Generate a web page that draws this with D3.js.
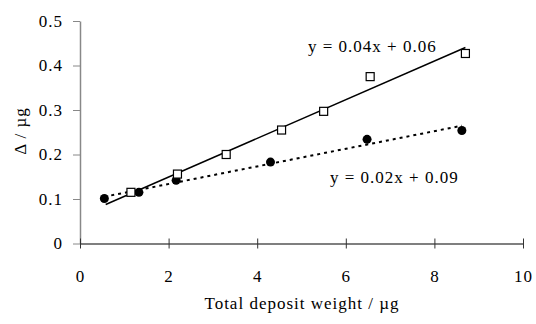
<!DOCTYPE html>
<html>
<head>
    <title>Deposit weight chart</title>
    <style>
        body { margin: 0; background: #fff; }
        svg { display: block; }
    </style>
</head>
<body>
    <svg id="chart" width="536" height="324"></svg>
    <script src="https://d3js.org/d3.v7.min.js"></script>
    <script>
        // Data
        const squareX = [1.15, 2.2, 3.3, 4.55, 5.5, 6.55, 8.7];
        const squareY = [0.115, 0.156, 0.2, 0.255, 0.297, 0.375, 0.427];
        const circleX = [0.55, 1.33, 2.17, 4.3, 6.48, 8.62];
        const circleY = [0.101, 0.115, 0.142, 0.183, 0.234, 0.254];
        const xTicks = [0, 2, 4, 6, 8, 10];
        const yTicks = [0, 0.1, 0.2, 0.3, 0.4, 0.5];
        const squareLabel = "y = 0.04x + 0.06";
        const circleLabel = "y = 0.02x + 0.09";

        // serif only resolves at small sizes here: stay at 17px, widen with letter spacing
        const FONT = "Liberation Serif";
        const FS = "17px";
        const LS = "1px";

        const svg = d3.select("#chart");
        const x = d3.scaleLinear().domain([0, 10]).range([80, 523]);
        const y = d3.scaleLinear().domain([0, 0.5]).range([243.5, 21]);

        // least squares trend line
        function fit(xs, ys) {
            const mx = d3.mean(xs), my = d3.mean(ys);
            const sxy = d3.sum(xs, (v, i) => (v - mx) * (ys[i] - my));
            const sxx = d3.sum(xs, v => (v - mx) * (v - mx));
            const m = sxy / sxx;
            return { m: m, b: my - m * mx };
        }

        function label(tx, ty, str, anchor, rot) {
            return svg.append("text")
                .attr("transform", `translate(${tx},${ty})` + (rot ? ` rotate(${rot})` : ""))
                .attr("text-anchor", anchor || "start")
                .attr("font-family", FONT).attr("font-size", FS)
                .attr("letter-spacing", LS)
                .attr("fill", "#000")
                .text(str);
        }

        // y axis
        const yAxis = svg.append("g")
            .attr("transform", "translate(80,0)")
            .call(d3.axisLeft(y).tickValues(yTicks).tickSizeInner(7).tickSizeOuter(0).tickPadding(10)
                .tickFormat(d => d === 0 ? "0" : d3.format(".1f")(d)));
        yAxis.attr("font-family", FONT).attr("font-size", FS);
        yAxis.select(".domain").attr("stroke", "#888").attr("stroke-width", 1.5);
        yAxis.selectAll(".tick line").attr("stroke", "#888");
        yAxis.selectAll(".tick text")
            .attr("letter-spacing", LS)
            .attr("fill", "#000");

        // x axis
        const xAxis = svg.append("g")
            .attr("transform", "translate(0,243.5)")
            .call(d3.axisBottom(x).tickValues(xTicks).tickSizeInner(5).tickSizeOuter(0)
                .tickFormat(d3.format("d")));
        xAxis.attr("font-family", FONT).attr("font-size", FS);
        xAxis.select(".domain").attr("stroke", "#000").attr("stroke-width", 1.2);
        xAxis.selectAll(".tick line").attr("y1", -5).attr("stroke", "#333");
        xAxis.selectAll(".tick text")
            .attr("y", 38).attr("dy", 0)
            .attr("letter-spacing", LS)
            .attr("fill", "#000");

        // axis titles
        label(302, 309, "Total deposit weight / \u00b5g", "middle");
        label(26, 131, "\u0394 / \u00b5g", "middle", -90);

        // trend lines
        const sq = fit(squareX, squareY);
        const ci = fit(circleX, circleY);
        const sqX0 = 0.58, sqX1 = d3.max(squareX);
        const ciX0 = d3.min(circleX), ciX1 = d3.max(circleX);

        svg.append("line")
            .attr("x1", x(sqX0)).attr("y1", y(sq.m * sqX0 + sq.b))
            .attr("x2", x(sqX1)).attr("y2", y(sq.m * sqX1 + sq.b))
            .attr("stroke", "#000").attr("stroke-width", 1.5);
        svg.append("line")
            .attr("x1", x(ciX0)).attr("y1", y(ci.m * ciX0 + ci.b))
            .attr("x2", x(ciX1)).attr("y2", y(ci.m * ciX1 + ci.b))
            .attr("stroke", "#000").attr("stroke-width", 2)
            .attr("stroke-dasharray", "3,4");

        // markers
        svg.append("g").selectAll("circle")
            .data(circleX)
            .enter().append("circle")
            .attr("cx", d => x(d))
            .attr("cy", (d, i) => y(circleY[i]))
            .attr("r", 4.5)
            .attr("fill", "#000");

        svg.append("g").selectAll("rect")
            .data(squareX)
            .enter().append("rect")
            .attr("x", d => x(d) - 4)
            .attr("y", (d, i) => y(squareY[i]) - 4)
            .attr("width", 8).attr("height", 8)
            .attr("fill", "#fff")
            .attr("stroke", "#000").attr("stroke-width", 1.2);

        // equation labels
        label(308, 52, squareLabel);
        label(330, 183, circleLabel);
    </script>
</body>
</html>
